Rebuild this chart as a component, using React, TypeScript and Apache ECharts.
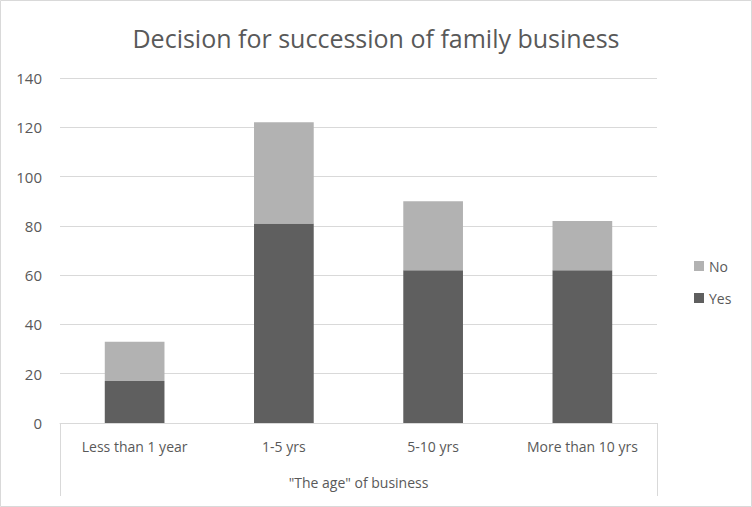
import React, { useEffect, useRef } from "react";
import * as echarts from "echarts";

const categories = ["Less than 1 year", "1-5 yrs", "5-10 yrs", "More than 10 yrs"];
const yesValues = [17, 81, 62, 62];
const noValues = [16, 41, 28, 20];
const yTicks = { min: 0, max: 140, interval: 20 };

export default function App() {
  const ref = useRef<HTMLDivElement>(null);
  useEffect(() => {
    if (!ref.current) return;
    const chart = echarts.init(ref.current, null, { renderer: "svg" });
    const font = "Open Sans";
    chart.setOption({
      animation: false,
      backgroundColor: "#ffffff",
      title: {
        text: "Decision for succession of family business",
        left: "center",
        top: 20,
        textStyle: { fontFamily: font, fontSize: 25, fontWeight: "normal", color: "#595959" },
      },
      legend: {
        orient: "vertical",
        left: 689,
        top: 254,
        itemWidth: 10,
        itemHeight: 10,
        itemGap: 18,
        icon: "rect",
        data: ["No", "Yes"],
        textStyle: { fontFamily: font, fontSize: 14, color: "#595959" },
      },
      grid: { left: 60, right: 95, top: 78, bottom: 84 },
      xAxis: {
        type: "category",
        data: categories,
        name: '"The age" of business',
        nameLocation: "middle",
        nameGap: 52,
        nameTextStyle: { fontFamily: font, fontSize: 14, color: "#595959" },
        axisLine: { lineStyle: { color: "#d9d9d9", width: 1 } },
        axisTick: { show: false },
        axisLabel: { fontFamily: font, fontSize: 14, color: "#595959", margin: 16 },
      },
      yAxis: {
        type: "value",
        min: yTicks.min,
        max: yTicks.max,
        interval: yTicks.interval,
        axisLine: { show: false },
        axisTick: { show: false },
        axisLabel: { fontFamily: font, fontSize: 15, color: "#595959", margin: 18 },
        splitLine: { lineStyle: { color: "#d9d9d9", width: 1 } },
      },
      graphic: [
        { type: "line", shape: { x1: 60.5, y1: 423, x2: 60.5, y2: 496 }, style: { stroke: "#d9d9d9", lineWidth: 1 } },
        { type: "line", shape: { x1: 657.5, y1: 423, x2: 657.5, y2: 496 }, style: { stroke: "#d9d9d9", lineWidth: 1 } },
        { type: "rect", shape: { x: 0.5, y: 0.5, width: 751, height: 506 }, style: { fill: "none", stroke: "#d9d9d9", lineWidth: 1 } },
      ],
      series: [
        {
          name: "Yes",
          type: "bar",
          stack: "total",
          data: yesValues,
          barWidth: "40%",
          itemStyle: { color: "#5f5f5f" },
        },
        {
          name: "No",
          type: "bar",
          stack: "total",
          data: noValues,
          barWidth: "40%",
          itemStyle: { color: "#b2b2b2" },
        },
      ],
    });
    return () => chart.dispose();
  }, []);
  return <div ref={ref} style={{ position: "fixed", left: 0, top: 0, width: 752, height: 507 }} />;
}
